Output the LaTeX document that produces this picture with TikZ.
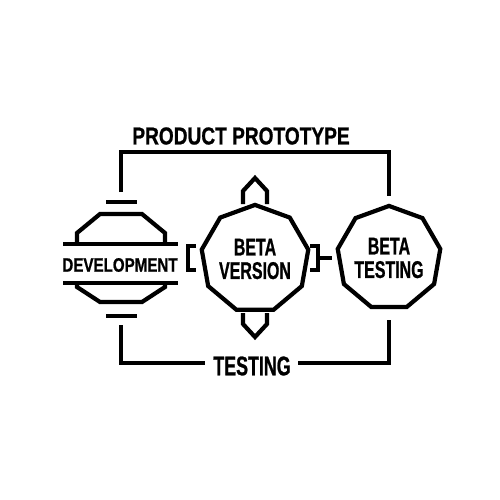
\documentclass[tikz,border=0pt]{standalone}
\usepackage{fontspec}
\usepackage{tikz}
\usetikzlibrary{shapes.geometric}
\newfontfamily\narrowfont[FakeStretch=0.66,BoldFeatures={FakeBold=0.8}]{Liberation Sans}
\newfontfamily\titlefont[FakeStretch=0.78,BoldFeatures={FakeBold=0.8}]{Liberation Sans}

\tikzset{
  rule/.style={line width=4.2pt},
  stage/.style={draw, rule, regular polygon, regular polygon sides=9,
    minimum size=#1, inner sep=0pt, align=center,
    font=\narrowfont\bfseries\fontsize{24.2}{23.5}\selectfont},
  tag/.style={inner sep=0pt, font=\titlefont\bfseries\fontsize{#1}{#1}\selectfont},
}

\begin{document}
\begin{tikzpicture}[x=1pt,y=-1pt]
  \fill[white] (0,0) rectangle (500,500);
  \useasboundingbox (0,0) rectangle (500,500);

  \node[stage=104pt] (beta) at (255,259) {BETA\\VERSION};
  \node[stage=100pt] (test) at (389,258) {BETA\\TESTING};
  \node[tag=19.4] (dev) at (120,265) {DEVELOPMENT};
  \node[tag=24.5] (proto) at (241,136) {PRODUCT PROTOTYPE};
  \node[tag=24, font=\narrowfont\bfseries\fontsize{27}{27}\selectfont] (check) at (252,366) {TESTING};

  % development block
  \draw[rule] (63,244) -- (178,244);
  \draw[rule] (63,283) -- (178,283);
  \draw[rule] (77,244) -- (77,233) -- (100,214) -- (142,214) -- (165,233) -- (165,244);
  \draw[rule] (77,283) -- (77,287) -- (100,302) -- (142,302) -- (165,287) -- (165,283);
  \draw[rule] (106,202) -- (137,202);
  \draw[rule] (106,316) -- (137,316);

  % around beta version
  \draw[rule] (243,204) -- (243,191) -- (255,178) -- (267,191) -- (267,204);
  \draw[rule] (243,313) -- (243,324) -- (255,337) -- (267,324) -- (267,313);
  \draw[rule] (196,246) -- (188,246) -- (188,270) -- (196,270);
  \draw[rule] (310,246) -- (318,246) -- (318,270) -- (310,270);
  \draw[rule] (318,258) -- (332,258);

  % loops
  \coordinate (devtop) at (121,192);
  \coordinate (devbot) at (121,325);
  \coordinate (testtop) at ([yshift=8pt]test.north);
  \coordinate (testbot) at ([yshift=-11pt]test.south);
  \draw[rule] (devtop) -- ++(0,-40) -| (testtop);
  \draw[rule] (devbot) |- ([xshift=-8pt,yshift=3pt]check.west);
  \draw[rule] (testbot) |- ([xshift=7pt,yshift=3pt]check.east);
\end{tikzpicture}
\end{document}
